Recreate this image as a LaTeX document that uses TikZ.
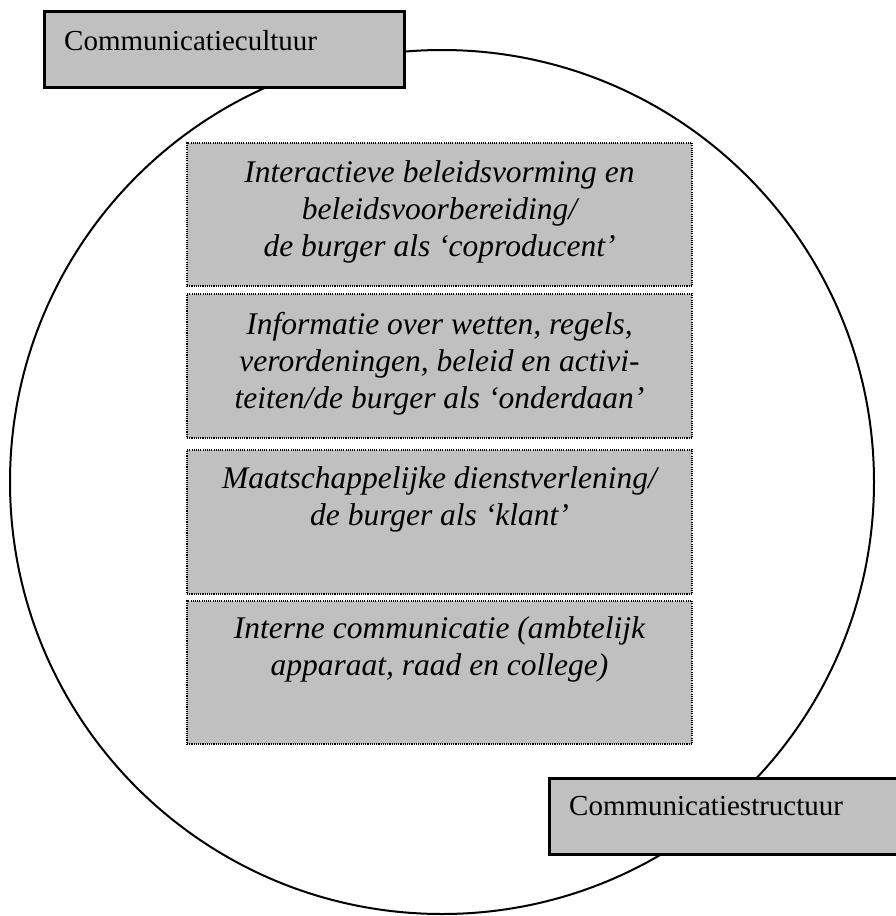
\documentclass[tikz,border=0pt]{standalone}
\usepackage{fontspec}
\setmainfont{Liberation Serif}
\usepackage{xcolor}
\usetikzlibrary{positioning}
\definecolor{vakgrijs}{RGB}{192,192,192}

\tikzset{
  kader/.style={draw, line width=3.5pt, fill=vakgrijs, inner sep=0pt},
  laag/.style={draw, line width=1.1pt, dash pattern=on 1.1pt off 1.1pt, fill=vakgrijs, minimum width=505, inner sep=0pt},
  laagtekst/.style={align=center, inner sep=0pt, font=\fontsize{31.5}{37}\selectfont\itshape},
  kadertekst/.style={anchor=base west, inner sep=0pt, font=\fontsize{29}{35}\selectfont}
}

\begin{document}
\begin{tikzpicture}[x=1pt,y=-1pt]
\useasboundingbox (0,0) rectangle (895,916);

\draw[line width=2pt] (442,482) circle (432);

% de vier lagen
\node[laag, minimum height=143] (coproducent) at (439.5,214.5) {};
\node[laag, minimum height=144] (onderdaan) at (439.5,366) {};
\node[laag, minimum height=144] (klant) at (439.5,522) {};
\node[laag, minimum height=143] (intern) at (439.5,672.5) {};

\node[laagtekst, below=17.5pt of coproducent.north] (coproducenttekst) {Interactieve beleidsvorming en\\beleidsvoorbereiding/\\de burger als ‘coproducent’};
\node[laagtekst, below=18.5pt of onderdaan.north] (onderdaantekst) {Informatie over wetten, regels,\\verordeningen, beleid en activi-\\teiten/de burger als ‘onderdaan’};
\node[laagtekst, below=16.5pt of klant.north] (klanttekst) {Maatschappelijke dienstverlening/\\de burger als ‘klant’};
\node[laagtekst, below=15.5pt of intern.north] (interntekst) {Interne communicatie (ambtelijk\\apparaat, raad en college)};

% cultuur en structuur
\node[kader, minimum width=360, minimum height=76, anchor=north west] (cultuur) at (42.75,9.75) {};
\node[kadertekst] (cultuurtekst) at (64,50) {Communicatiecultuur};

\node[kader, minimum width=400, minimum height=76, anchor=north west] (structuur) at (547.75,776.75) {};
\node[kadertekst] (structuurtekst) at (569,815) {Communicatiestructuur};

\end{tikzpicture}
\end{document}
